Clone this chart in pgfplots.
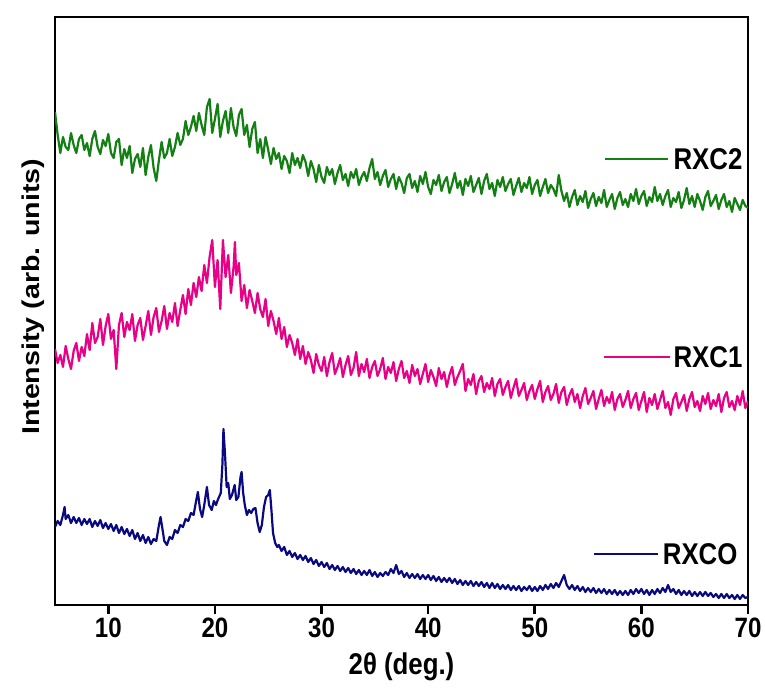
\documentclass[border=0pt]{standalone}
\usepackage{pgfplots}
\pgfplotsset{compat=1.18}
\usepackage{fontspec}
\setmainfont{Liberation Sans}[FakeStretch=0.86]
\newfontfamily\plainsans{Liberation Sans}
\definecolor{cgreen}{RGB}{20,128,20}
\definecolor{cpink}{RGB}{232,0,135}
\definecolor{cnavy}{RGB}{10,10,128}
\begin{document}
\begin{tikzpicture}
\begin{axis}[
  scale only axis, width=693pt, height=588pt,
  xmin=5, xmax=70, ymin=0, ymax=588,
  axis line style={line width=2.6pt, black},
  xtick={10,20,30,40,50,60,70}, ytick=\empty,
  tick pos=left, tick align=outside,
  major tick length=9pt,
  tick style={line width=2.6pt, black},
  /pgf/number format/assume math mode=true,
  xticklabel style={font=\bfseries\fontsize{28}{28}\selectfont},
  xlabel={2θ (deg.)},
  xlabel style={font=\bfseries\fontsize{30}{30}\selectfont, at={(rel axis cs:0.5,0)}, anchor=center, yshift=-62pt},
  ylabel={\scalebox{1}[0.85]{\plainsans\bfseries\fontsize{28.6}{28.6}\selectfont Intensity (arb. units)}},
  ylabel style={at={(rel axis cs:0,0.524)}, anchor=center, yshift=22pt},
]
\addplot[cgreen, line width=2.2pt, line join=round] table {
x y
5.00 493
5.25 470
5.50 452
5.75 468
6.00 458
6.25 455
6.50 472
6.75 460
7.00 452
7.25 466
7.50 470
7.75 455
8.00 462
8.25 449
8.50 466
8.75 474
9.00 458
9.25 451
9.50 465
9.75 459
10.00 471
10.25 452
10.50 447
10.75 463
11.00 466
11.25 440
11.50 456
11.75 447
12.00 459
12.25 432
12.50 446
12.75 451
13.00 438
13.25 457
13.50 430
13.75 448
14.00 460
14.25 437
14.50 424
14.75 445
15.00 463
15.25 447
15.50 452
15.75 466
16.00 449
16.25 458
16.50 472
16.75 460
17.00 466
17.25 484
17.50 470
17.75 478
18.00 489
18.25 474
18.50 492
18.75 480
19.00 470
19.25 498
19.50 506
19.75 472
20.00 486
20.25 501
20.50 468
20.75 484
21.00 494
21.25 472
21.50 497
21.75 478
22.00 469
22.25 490
22.50 496
22.75 470
23.00 480
23.25 458
23.50 476
23.75 483
24.00 452
24.25 466
24.50 447
24.75 468
25.00 455
25.25 441
25.50 457
25.75 446
26.00 452
26.25 436
26.50 449
26.75 444
27.00 432
27.25 452
27.50 440
27.75 447
28.00 437
28.25 450
28.50 443
28.75 429
29.00 444
29.25 436
29.50 423
29.75 440
30.00 428
30.25 422
30.50 438
30.75 430
31.00 436
31.25 421
31.50 432
31.75 440
32.00 425
32.25 431
32.50 419
32.75 433
33.00 427
33.25 436
33.50 420
33.75 428
34.00 433
34.25 424
34.50 437
34.75 446
35.00 426
35.25 433
35.50 420
35.75 429
36.00 435
36.25 418
36.50 426
36.75 431
37.00 416
37.25 428
37.50 422
37.75 412
38.00 427
38.25 431
38.50 417
38.75 424
39.00 413
39.25 429
39.50 421
39.75 433
40.00 418
40.25 411
40.50 425
40.75 420
41.00 430
41.25 414
41.50 423
41.75 428
42.00 412
42.25 421
42.50 432
42.75 417
43.00 424
43.25 410
43.50 426
43.75 419
44.00 429
44.25 413
44.50 420
44.75 427
45.00 411
45.25 424
45.50 431
45.75 416
46.00 422
46.25 409
46.50 425
46.75 418
47.00 428
47.25 414
47.50 421
47.75 426
48.00 410
48.25 419
48.50 427
48.75 413
49.00 422
49.25 417
49.50 428
49.75 411
50.00 420
50.25 425
50.50 409
50.75 418
51.00 426
51.25 412
51.50 420
51.75 416
52.00 409
52.25 430
52.50 414
52.75 404
53.00 412
53.25 398
53.50 408
53.75 415
54.00 400
54.25 409
54.50 403
54.75 414
55.00 397
55.25 406
55.50 412
55.75 399
56.00 408
56.25 402
56.50 415
56.75 398
57.00 405
57.25 411
57.50 396
57.75 407
58.00 413
58.25 400
58.50 406
58.75 398
59.00 411
59.25 404
59.50 416
59.75 401
60.00 409
60.25 414
60.50 399
60.75 408
61.00 403
61.25 418
61.50 404
61.75 411
62.00 400
62.25 409
62.50 415
62.75 398
63.00 407
63.25 403
63.50 413
63.75 397
64.00 405
64.25 417
64.50 401
64.75 409
65.00 398
65.25 411
65.50 404
65.75 395
66.00 408
66.25 414
66.50 399
66.75 404
67.00 410
67.25 396
67.50 405
67.75 411
68.00 398
68.25 404
68.50 393
68.75 407
69.00 401
69.25 395
69.50 405
69.75 399
70.00 397
};
\addplot[cpink, line width=2.2pt, line join=round] table {
x y
5.00 256
5.25 242
5.50 250
5.75 238
6.00 259
6.25 246
6.50 236
6.75 254
7.00 262
7.25 244
7.50 258
7.75 249
8.00 271
8.25 255
8.50 282
8.75 262
9.00 268
9.25 286
9.50 260
9.75 279
10.00 291
10.25 266
10.50 275
10.75 236
11.00 280
11.25 292
11.50 268
11.75 283
12.00 275
12.25 291
12.50 264
12.75 280
13.00 287
13.25 265
13.50 279
13.75 294
14.00 270
14.25 288
14.50 297
14.75 273
15.00 284
15.25 299
15.50 276
15.75 292
16.00 283
16.25 302
16.50 279
16.75 295
17.00 310
17.25 291
17.50 316
17.75 300
18.00 322
18.25 308
18.50 328
18.75 314
19.00 340
19.25 322
19.50 348
19.75 365
20.00 318
20.25 345
20.50 296
20.75 365
21.00 328
21.25 350
21.50 312
21.75 338
21.875 363
22.00 330
22.25 342
22.50 304
22.75 320
23.00 297
23.25 315
23.50 304
23.75 292
24.00 312
24.25 296
24.50 288
24.75 306
25.00 279
25.25 294
25.50 284
25.75 271
26.00 287
26.25 266
26.50 278
26.75 258
27.00 270
27.25 262
27.50 250
27.75 266
28.00 246
28.25 259
28.50 241
28.75 253
29.00 245
29.25 232
29.50 251
29.75 240
30.00 234
30.25 248
30.50 229
30.75 243
31.00 252
31.25 231
31.50 238
31.75 247
32.00 228
32.25 240
32.50 249
32.75 230
33.00 237
33.25 253
33.50 229
33.75 241
34.00 233
34.25 246
34.50 227
34.75 238
35.00 244
35.25 229
35.50 236
35.75 247
36.00 226
36.25 238
36.50 232
36.75 243
37.00 224
37.25 236
37.50 244
37.75 227
38.00 234
38.25 222
38.50 240
38.75 229
39.00 236
39.25 221
39.50 231
39.75 241
40.00 223
40.25 235
40.50 228
40.75 219
41.00 237
41.25 226
41.50 233
41.75 218
42.00 230
42.25 238
42.50 220
42.75 228
43.00 234
43.25 241
43.50 214
43.75 226
44.00 220
44.25 231
44.50 211
44.75 224
45.00 229
45.25 213
45.50 222
45.75 216
46.00 227
46.25 209
46.50 221
46.75 226
47.00 210
47.25 218
47.50 224
47.75 207
48.00 217
48.25 226
48.50 209
48.75 215
49.00 222
49.25 205
49.50 214
49.75 220
50.00 206
50.25 216
50.50 224
50.75 203
51.00 213
51.25 219
51.50 205
51.75 211
52.00 221
52.25 202
52.50 213
52.75 218
53.00 200
53.25 210
53.50 216
53.75 203
54.00 211
54.25 197
54.50 209
54.75 217
55.00 201
55.25 207
55.50 214
55.75 196
56.00 206
56.25 215
56.50 199
56.75 208
57.00 202
57.25 213
57.50 195
57.75 206
58.00 211
58.25 198
58.50 205
58.75 214
59.00 197
59.25 206
59.50 212
59.75 195
60.00 204
60.25 213
60.50 193
60.75 207
61.00 200
61.25 211
61.50 196
61.75 205
62.00 214
62.25 197
62.50 203
62.75 190
63.00 206
63.25 212
63.50 197
63.75 203
64.00 210
64.25 194
64.50 206
64.75 213
65.00 198
65.25 204
65.50 194
65.75 209
66.00 201
66.25 212
66.50 196
66.75 205
67.00 199
67.25 211
67.50 193
67.75 207
68.00 213
68.25 198
68.50 204
68.75 195
69.00 209
69.25 200
69.50 214
69.75 197
70.00 204
};
\addplot[cnavy, line width=2.2pt, line join=round] table {
x y
5.00 78
5.25 84
5.50 80
5.75 90
5.90 98
6.00 86
6.25 90
6.50 82
6.75 88
7.00 82
7.25 87
7.50 80
7.75 86
8.00 81
8.25 86
8.50 78
8.75 84
9.00 79
9.25 85
9.50 77
9.75 82
10.00 76
10.25 81
10.50 74
10.75 80
11.00 72
11.25 78
11.50 71
11.75 76
12.00 69
12.25 75
12.50 66
12.75 72
13.00 64
13.25 70
13.50 62
13.75 68
14.00 61
14.25 66
14.50 64
14.75 80
14.90 88
15.05 78
15.25 64
15.50 60
15.75 68
16.00 66
16.25 75
16.50 72
16.75 80
17.00 78
17.25 86
17.50 84
17.75 92
18.00 90
18.20 102
18.40 113
18.60 96
18.80 88
19.00 100
19.25 118
19.45 100
19.70 95
19.90 104
20.10 100
20.30 106
20.55 112
20.70 140
20.80 176
20.95 150
21.10 118
21.25 122
21.40 106
21.60 110
21.85 120
22.00 105
22.20 108
22.40 128
22.50 133
22.65 112
22.80 100
23.00 90
23.20 95
23.40 92
23.60 96
23.80 97
24.00 82
24.20 73
24.40 80
24.60 98
24.80 108
25.00 110
25.15 115
25.30 95
25.45 72
25.65 62
25.85 58
26.00 60
26.25 54
26.50 58
26.75 50
27.00 54
27.25 48
27.50 52
27.75 46
28.00 50
28.25 45
28.50 49
28.75 43
29.00 47
29.25 41
29.50 45
29.75 39
30.00 43
30.25 38
30.50 42
30.75 36
31.00 40
31.25 35
31.50 39
31.75 34
32.00 38
32.25 33
32.50 37
32.75 32
33.00 36
33.25 31
33.50 35
33.75 30
34.00 34
34.25 30
34.50 35
34.75 29
35.00 33
35.25 28
35.50 32
35.75 29
36.00 33
36.25 30
36.50 36
36.75 32
37.00 40
37.25 31
37.50 34
37.75 28
38.00 32
38.25 27
38.50 31
38.75 27
39.00 31
39.25 26
39.50 30
39.75 26
40.00 30
40.25 25
40.50 29
40.75 24
41.00 28
41.25 23
41.50 27
41.75 23
42.00 27
42.25 22
42.50 26
42.75 21
43.00 25
43.25 20
43.50 24
43.75 20
44.00 24
44.25 19
44.50 23
44.75 19
45.00 23
45.25 18
45.50 22
45.75 17
46.00 22
46.25 17
46.50 21
46.75 16
47.00 20
47.25 16
47.50 20
47.75 15
48.00 19
48.25 15
48.50 19
48.75 14
49.00 18
49.25 15
49.50 19
49.75 14
50.00 18
50.25 14
50.50 19
50.75 15
51.00 20
51.25 16
51.50 21
51.75 17
52.00 22
52.25 18
52.50 24
52.75 30
53.00 20
53.25 16
53.50 20
53.75 15
54.00 19
54.25 14
54.50 18
54.75 13
55.00 17
55.25 13
55.50 17
55.75 12
56.00 16
56.25 12
56.50 16
56.75 11
57.00 15
57.25 11
57.50 15
57.75 10
58.00 14
58.25 10
58.50 14
58.75 10
59.00 15
59.25 11
59.50 16
59.75 12
60.00 16
60.25 11
60.50 15
60.75 10
61.00 15
61.25 11
61.50 16
61.75 12
62.00 17
62.25 13
62.50 20
62.75 13
63.00 16
63.25 11
63.50 15
63.75 10
64.00 14
64.25 10
64.50 14
64.75 9
65.00 13
65.25 9
65.50 13
65.75 9
66.00 13
66.25 9
66.50 12
66.75 8
67.00 11
67.25 7
67.50 11
67.75 7
68.00 11
68.25 7
68.50 10
68.75 6
69.00 10
69.25 6
69.50 10
69.75 7
70.00 8
};
% legend-like labels
\addplot[cgreen, line width=2.2pt] coordinates {(56.6,446) (62.5,446)};
\addplot[cpink, line width=2.2pt] coordinates {(56.5,248) (62.7,248)};
\addplot[cnavy, line width=2.2pt] coordinates {(55.6,51) (61.6,51)};
\node[anchor=west, inner sep=0pt, font=\bfseries\fontsize{30}{30}\selectfont] at (axis cs:63.0,446) {RXC2};
\node[anchor=west, inner sep=0pt, font=\bfseries\fontsize{30}{30}\selectfont] at (axis cs:63.0,248) {RXC1};
\node[anchor=west, inner sep=0pt, font=\bfseries\fontsize{30}{30}\selectfont] at (axis cs:62.0,51) {RXCO};
\end{axis}
\pgfresetboundingbox
\path (-55pt,-93pt) rectangle (710pt,605pt);
\end{tikzpicture}
\end{document}
